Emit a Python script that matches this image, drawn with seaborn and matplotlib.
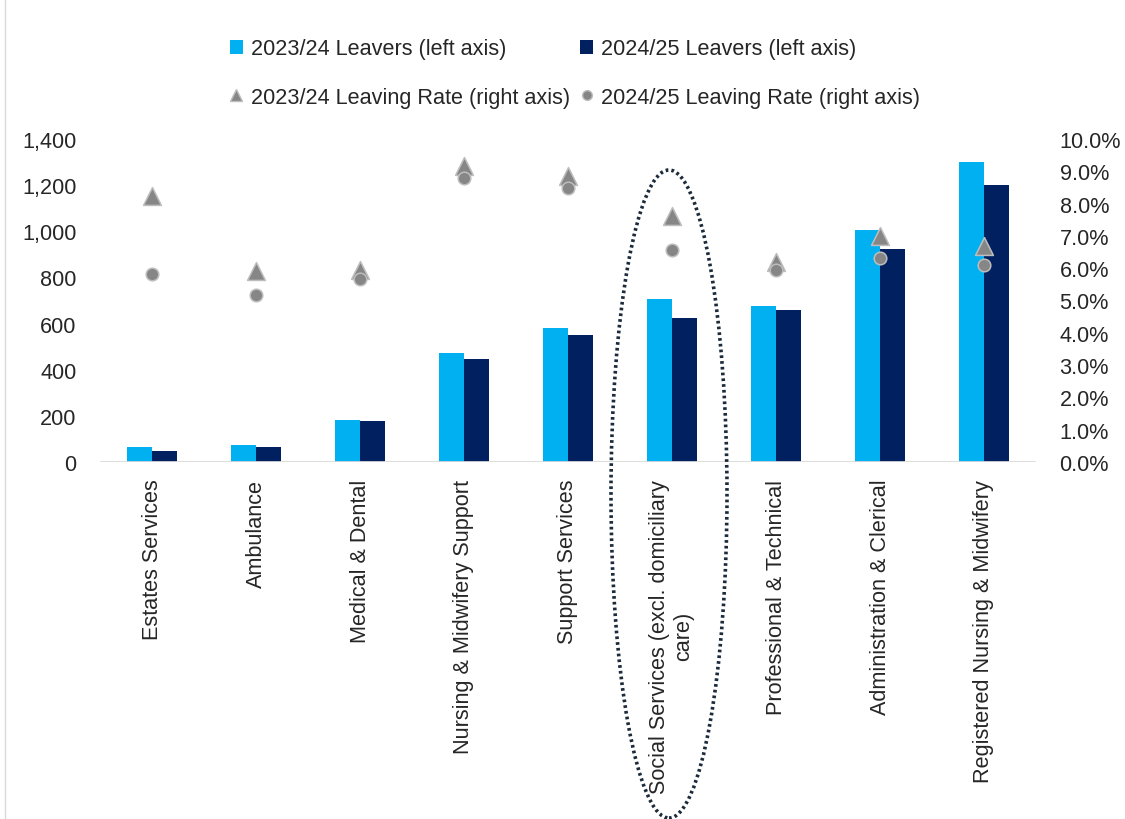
import numpy as np
import pandas as pd
import matplotlib
matplotlib.use("Agg")
import matplotlib.pyplot as plt
import seaborn as sns
from matplotlib.patches import Ellipse, Patch
from matplotlib.lines import Line2D
from matplotlib.ticker import FuncFormatter

# ---- data -------------------------------------------------------------
staff_groups = [
    "Estates Services",
    "Ambulance",
    "Medical & Dental",
    "Nursing & Midwifery Support",
    "Support Services",
    "Social Services (excl. domiciliary\ncare)",
    "Professional & Technical",
    "Administration & Clerical",
    "Registered Nursing & Midwifery",
]
leavers_2324 = [65, 75, 183, 474, 581, 705, 675, 1006, 1300]
leavers_2425 = [46, 65, 178, 446, 552, 623, 660, 922, 1202]
rate_2324 = [8.25, 5.92, 5.95, 9.17, 8.85, 7.63, 6.18, 6.99, 6.70]   # %
rate_2425 = [5.81, 5.18, 5.66, 8.79, 8.47, 6.55, 5.95, 6.31, 6.10]   # %
years = ["2023/24", "2024/25"]

# ---- style ------------------------------------------------------------
sns.set_theme(style="white")
plt.rcParams["font.family"] = ["Liberation Sans", "DejaVu Sans"]
FS = 15.6
TXT = "#262626"
LIGHT_BLUE = "#00B0F0"
NAVY = "#002060"
GREY = "#868686"
GREY_EDGE = "#bdbdbd"

leavers = pd.DataFrame({
    "group": staff_groups * 2,
    "year": [years[0]] * len(staff_groups) + [years[1]] * len(staff_groups),
    "leavers": leavers_2324 + leavers_2425,
})
rates = pd.DataFrame({"group": staff_groups, "r2324": rate_2324, "r2425": rate_2425})

fig = plt.figure(figsize=(11.25, 8.2), dpi=100)
ax = fig.add_axes([100 / 1125, 1 - 463 / 820, 936 / 1125, 323 / 820])

sns.barplot(data=leavers, x="group", y="leavers", hue="year",
            palette=[LIGHT_BLUE, NAVY], width=0.48, gap=0,
            order=staff_groups, hue_order=years, legend=False, ax=ax,
            linewidth=0, saturation=1)

ax.set_ylim(0, 1400)
ax.set_xlim(-0.5, len(staff_groups) - 0.5)
ax.set_yticks(range(0, 1401, 200))
ax.yaxis.set_major_formatter(FuncFormatter(lambda v, p: f"{int(v):,}"))
ax.set_xlabel("")
ax.set_ylabel("")
for s in ax.spines.values():
    s.set_visible(False)
ax.axhline(0, color="#d9d9d9", lw=2, zorder=3)
ax.tick_params(axis="y", length=0, pad=17, labelsize=FS, labelcolor=TXT)
ax.tick_params(axis="x", length=0, pad=12, labelsize=FS, labelcolor=TXT)
ax.set_xticks(range(len(staff_groups)))
ax.set_xticklabels(staff_groups, rotation=90, ha="center", va="top",
                   multialignment="center")

# ---- leaving rates on the right axis ---------------------------------
ax2 = ax.twinx()
sns.scatterplot(data=rates, x="group", y="r2324", marker="^", s=165,
                color=GREY, edgecolor=GREY_EDGE, linewidth=1.1,
                ax=ax2, legend=False, zorder=4)
sns.scatterplot(data=rates, x="group", y="r2425", marker="o", s=82,
                color=GREY, edgecolor=GREY_EDGE, linewidth=1.1,
                ax=ax2, legend=False, zorder=5)
ax2.set_ylim(0, 10)
ax2.set_xlim(-0.5, len(staff_groups) - 0.5)
ax2.set_yticks(np.arange(0, 10.01, 1))
ax2.yaxis.set_major_formatter(FuncFormatter(lambda v, p: f"{v:.1f}%"))
ax2.set_ylabel("")
ax2.set_xlabel("")
for s in ax2.spines.values():
    s.set_visible(False)
ax2.tick_params(axis="y", length=0, pad=17, labelsize=FS, labelcolor=TXT)
ax2.grid(False)
ax.grid(False)

# ---- legend -----------------------------------------------------------
handles = [
    Patch(facecolor=LIGHT_BLUE, edgecolor="none", label="2023/24 Leavers (left axis)"),
    Line2D([], [], linestyle="none", marker="^", markersize=9, color=GREY,
           markeredgecolor=GREY_EDGE, label="2023/24 Leaving Rate (right axis)"),
    Patch(facecolor=NAVY, edgecolor="none", label="2024/25 Leavers (left axis)"),
    Line2D([], [], linestyle="none", marker="o", markersize=7, color=GREY,
           markeredgecolor=GREY_EDGE, label="2024/25 Leaving Rate (right axis)"),
]
fig.legend(handles=handles, ncol=2, loc="upper center",
           bbox_to_anchor=(575 / 1125, 1 - 20 / 820), frameon=False,
           fontsize=FS, handlelength=0.6, handleheight=0.6,
           handletextpad=0.35, columnspacing=0.5, labelspacing=1.25,
           labelcolor=TXT)

# ---- highlight around social services --------------------------------
fig.add_artist(Ellipse((669 / 1125, 1 - 495 / 820), 116 / 1125, 648 / 820,
                       transform=fig.transFigure, fill=False,
                       edgecolor="#1b2b3b", lw=2.6,
                       linestyle=(0, (0.75, 0.85)), clip_on=False))

# thin frame line at the left edge
fig.add_artist(Line2D([5 / 1125, 5 / 1125], [0, 1], transform=fig.transFigure,
                      color="#d9d9d9", lw=1))

fig.savefig("out.png", dpi=100)
